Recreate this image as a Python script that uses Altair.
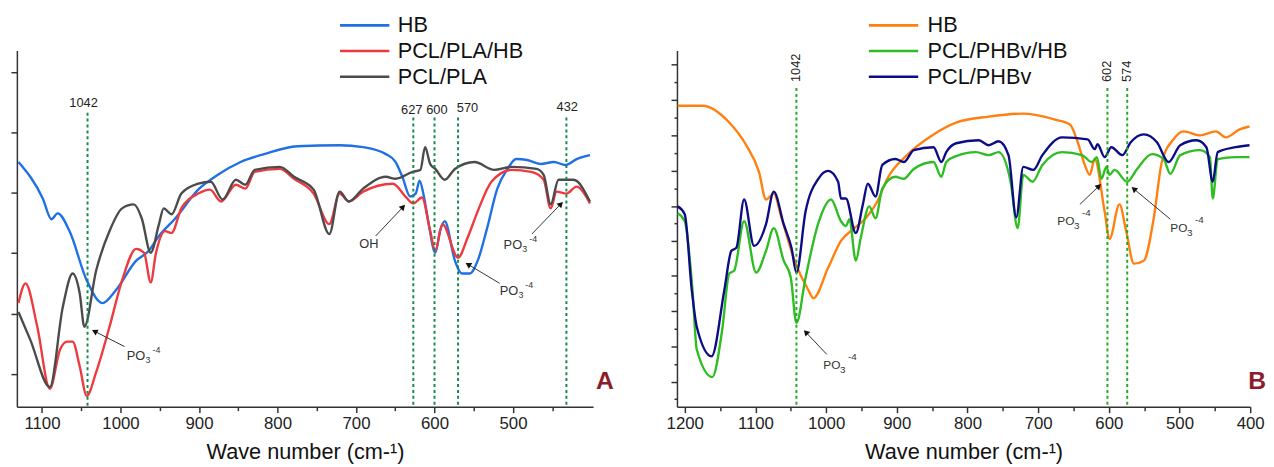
import math
import altair as alt
import pandas as pd

FONT = "Liberation Sans"

# ---------------- Panel A: spectra (wave number cm-1, transmittance a.u.) ----------------
A_NAMES = ["HB", "PCL/PLA/HB", "PCL/PLA"]
A_COLORS = ["#1f6fe5", "#ee3a3e", "#4b4b4b"]

A_HB_WN = [1130, 1099, 1088, 1080, 1065, 1043, 1023, 1006, 980, 964, 951, 930, 901, 876, 847, 817, 775, 721, 691, 662,
           649.5, 641, 631, 624, 619, 614, 608, 599, 593, 587, 574, 565, 555, 545, 533, 520, 507, 496, 482, 465,
           448, 433, 419, 402]
A_HB_T = [248, 211, 190, 196, 178, 128, 105, 118, 148, 158, 173, 191, 220, 235, 248, 256, 264, 265, 263, 256,
          248, 233, 213, 216, 229, 215, 188, 156, 178, 188, 148, 135, 135, 148, 181, 221, 241, 251, 250, 246,
          248, 245, 251, 255]

A_PPH_WN = [1130, 1121, 1106, 1090, 1077, 1068, 1061, 1052, 1043, 1031, 1014, 998, 980, 970, 961.5, 955, 943, 935,
            922.5, 901, 886, 872, 853, 841, 829, 797, 779, 754, 734, 721, 709, 691, 653, 637, 627, 616, 605.5, 599,
            590, 570, 558, 545, 527.5, 502, 477, 461, 452, 444.5, 432, 419, 402]
A_PPH_T = [105, 125, 81, 18, 58, 66, 66, 41, 11, 35, 81, 128, 160, 156, 126, 155, 178, 176,
           201, 216, 220, 208, 225, 221, 238, 241, 231, 216, 185, 216, 208, 218, 226, 213, 206, 212, 178, 158,
           185, 151, 171, 198, 228, 240, 238, 230, 201, 218, 216, 223, 206]

A_PP_WN = [1130, 1115, 1090, 1073.5, 1061, 1052, 1046, 1031, 1014, 998, 983, 973, 961.5, 951, 945, 935, 922.5, 901,
           885, 870, 853, 841, 829, 797, 779, 754, 734, 721, 709, 691, 662, 649.5, 628, 618, 612, 605.5, 599, 587,
           574, 549, 524, 502, 470, 461, 452, 442, 423, 402]
A_PP_T = [96, 68, 20, 101, 135, 115, 81, 138, 178, 201, 205, 191, 156, 185, 201, 195, 216, 226,
          228, 210, 230, 225, 240, 243, 233, 220, 175, 218, 208, 221, 233, 231, 238, 240, 263, 246, 241, 230,
          241, 248, 240, 243, 241, 235, 205, 230, 230, 208]

A_MARK_WN = [1042, 627, 600, 570, 432]
A_MARK_TOP = [298, 293, 293, 293, 293]
A_LABEL_TEXT = ["1042", "627", "600", "570", "432"]
A_LABEL_WN = [1047, 629, 597, 558, 431]
A_LABEL_T = [308, 301, 301, 303, 304]

A_ARROW_TAIL_WN = [995, 675, 517, 476]
A_ARROW_TAIL_T = [61, 173, 125, 175]
A_ARROW_HEAD_WN = [1037, 637, 561, 436]
A_ARROW_HEAD_T = [78, 205, 146, 208]
A_PO_WN = [992, 517, 512]
A_PO_T = [51, 117, 164]
A_OH_WN = [683.5]
A_OH_T = [165]
A_XTICKS = [1100, 1050, 1000, 950, 900, 850, 800, 750, 700, 650, 600, 550, 500, 450]
A_YTICKS = [33, 94, 156, 217, 278, 339]

# ---------------- Panel B ----------------
B_NAMES = ["HB", "PCL/PHBv/HB", "PCL/PHBv"]
B_COLORS = ["#ff7f10", "#2ebd22", "#0c0c86"]

B_HB_WN = [1210, 1175, 1137, 1113, 1095, 1085, 1074, 1063, 1043, 1025, 1018, 997, 979, 960, 944, 927.5, 913.5,
           885.6, 848, 816, 770, 722, 676, 655, 644, 634, 627, 620, 606, 599, 585, 575.5, 564.5, 550.5, 536.5,
           525, 508.5, 494.5, 471, 448.5, 434.5, 415, 401]
B_HB_T = [305, 305, 288, 265, 238, 210, 216, 191, 145, 118, 110, 141, 168, 181, 191, 208, 231,
          255, 276, 288, 294, 297, 291, 286, 268, 245, 235, 251, 198, 170, 205, 178, 145, 148, 191,
          248, 271, 279, 275, 279, 273, 281, 284]

B_PPH_WN = [1210, 1200, 1189, 1183, 1161, 1147, 1137, 1130, 1116, 1099, 1085, 1074, 1060, 1050, 1042, 1029, 1011,
            993, 979, 972, 967, 958, 951, 939, 930, 920.5, 902, 890, 876, 848, 837, 830, 816, 788, 770, 756, 739,
            729, 721, 708, 694, 666, 638, 624, 617, 610.5, 603.5, 599, 592, 574, 560, 539, 522.5, 513, 499, 471,
            457, 453, 446, 420.5, 401]
B_PPH_T = [196, 188, 118, 58, 30, 78, 135, 138, 188, 136, 158, 181, 148, 131, 85, 131, 186,
           210, 188, 183, 190, 148, 171, 203, 191, 221, 233, 231, 241, 248, 233, 248, 254, 258, 255, 258, 228,
           181, 235, 228, 245, 258, 255, 248, 253, 231, 243, 235, 240, 228, 241, 256, 251, 236, 255, 260,
           253, 211, 251, 253, 253]

B_PP_WN = [1210, 1200, 1190, 1183, 1162, 1144, 1134, 1127, 1116, 1102, 1085, 1074, 1060, 1049, 1042, 1029, 1011,
           997, 983, 979, 972, 958, 948, 941, 930, 920.5, 902, 890, 876, 848, 837, 830, 816, 784, 770, 756, 742,
           731, 721, 707, 694, 666, 630, 620, 616, 606, 596.5, 581, 569, 550.5, 532, 515.5, 499, 476, 462, 453,
           446, 420.5, 401]
B_PP_T = [203, 195, 118, 81, 51, 118, 158, 161, 210, 163, 185, 218, 185, 161, 136, 198, 231,
          239, 228, 211, 211, 176, 205, 226, 213, 245, 251, 248, 260, 263, 248, 258, 267, 270, 265, 269, 255,
          192, 243, 240, 255, 273, 271, 261, 266, 253, 263, 255, 268, 276, 268, 248, 265, 270, 263, 228,
          258, 263, 265]

B_MARK_WN = [1042, 602, 574]
B_MARK_TOP = [323, 323, 323]
B_LABEL_TEXT = ["1042", "602", "574"]
B_LABEL_WN = [1042, 602, 574]
B_LABEL_T = [329, 329, 329]

B_ARROW_TAIL_WN = [999, 641, 513]
B_ARROW_TAIL_T = [53, 205, 190]
B_ARROW_HEAD_WN = [1032, 610.5, 568.5]
B_ARROW_HEAD_T = [78, 226, 223]
B_PO_WN = [1004, 673, 513]
B_PO_T = [42, 188, 181]
B_XTICKS = [1200, 1150, 1100, 1050, 1000, 950, 900, 850, 800, 750, 700, 650, 600, 550, 500, 450, 400]
B_YTICKS = [8, 25, 43, 61, 79, 97, 115, 133, 150, 168, 186, 203, 221, 239, 257, 275, 293, 311, 329, 347]
B_YMAJOR = [25, 61, 97, 133, 168, 203, 239, 275, 311, 347]

A_X_DOMAIN = [398, 1132]
B_X_DOMAIN = [400, 1211]
T_DOMAIN = [0, 361]
W_A, W_B, H = 584, 581, 361


def long_df(names, wns, ts):
    rows = []
    for n, w, t in zip(names, wns, ts):
        for i, (a, b) in enumerate(zip(w, t)):
            rows.append({"series": n, "wn": a, "t": b, "idx": i})
    return pd.DataFrame(rows)


def xenc(domain, ticks):
    return alt.X(
        "wn:Q",
        scale=alt.Scale(domain=domain, reverse=True, nice=False, zero=False),
        axis=alt.Axis(
            values=ticks,
            format="d",
            labelExpr="datum.value % 100 === 0 ? datum.label : ''",
            tickSize={"condition": {"test": "datum.value % 100 === 0", "value": 6}, "value": 4},
            title="Wave number (cm-\u00b9)",
            grid=False,
            labelFlush=False,
            labelOverlap=False,
            labelFont=FONT, labelFontSize=17, labelColor="#222", labelPadding=3,
            titleFont=FONT, titleFontSize=22, titleFontWeight="normal", titleColor="#111", titlePadding=10,
            domainColor="#333", domainWidth=1.5, tickColor="#333", tickWidth=1.5,
        ),
    )


def yenc(ticks, majors):
    test = "indexof([" + ",".join(str(v) for v in majors) + "], datum.value) >= 0"
    return alt.Y(
        "t:Q",
        scale=alt.Scale(domain=T_DOMAIN, nice=False, zero=False),
        axis=alt.Axis(values=ticks, labels=False, title=None, grid=False,
                      domainColor="#333", domainWidth=1.5, tickColor="#333", tickWidth=1.5,
                      tickSize={"condition": {"test": test, "value": 6}, "value": 3}),
    )


def arrows(tw, tt, hw, ht, kx):
    rules, heads = [], []
    for a, b, c, d in zip(tw, tt, hw, ht):
        dx = -(c - a) * kx
        dy = -(d - b)
        L = math.hypot(dx, dy)
        ux, uy = dx / L, dy / L
        ang = math.degrees(math.atan2(ux, -uy)) % 360
        back = 3.5
        rules.append({"wn": a, "t": b, "wn2": c + ux * back / kx, "t2": d + uy * back})
        heads.append({"wn": c + ux * back / kx, "t": d + uy * back, "ang": ang})
    return pd.DataFrame(rules), pd.DataFrame(heads)


def panel(names, colors, wns, ts, domain, xticks, yticks, ymajor, width,
          mark_wn, mark_top, mark_color, lab_text, lab_wn, lab_t, lab_angle,
          tw, tt, hw, ht, po_wn, po_t, po_style, extra_text, letter, letter_x, letter_align,
          legend_x, label_offset):
    kx = width / (domain[1] - domain[0])
    X = lambda: xenc(domain, xticks)
    Y = lambda: yenc(yticks, ymajor)
    df = long_df(names, wns, ts)
    lines = alt.Chart(df).mark_line(strokeWidth=2.4, interpolate="monotone").encode(
        x=X(), y=Y(),
        color=alt.Color("series:N", scale=alt.Scale(domain=names, range=colors),
                        legend=alt.Legend(orient="none", legendX=legend_x, legendY=-37, title=None,
                                          symbolType="M-2.5,0H2.5", symbolSize=400, symbolStrokeWidth=2.6,
                                          labelFontSize=22, labelFont=FONT, labelColor="#111",
                                          labelOffset=label_offset, rowPadding=3, padding=0)),
        order="idx:Q",
    )
    mdf = pd.DataFrame({"wn": mark_wn, "t": mark_top, "t0": [0] * len(mark_wn)})
    dashed = alt.Chart(mdf).mark_rule(strokeDash=[3, 3], strokeWidth=2, color=mark_color).encode(
        x=X(), y=Y(), y2="t0:Q")
    ldf = pd.DataFrame({"wn": lab_wn, "t": lab_t, "lab": lab_text})
    if lab_angle:
        labels = alt.Chart(ldf).mark_text(font=FONT, fontSize=13, color="#222", angle=lab_angle,
                                          align="left", baseline="middle").encode(x=X(), y=Y(), text="lab:N")
    else:
        labels = alt.Chart(ldf).mark_text(font=FONT, fontSize=13, color="#222",
                                          align="center", baseline="middle").encode(x=X(), y=Y(), text="lab:N")
    rdf, hdf = arrows(tw, tt, hw, ht, kx)
    arr = alt.Chart(rdf).mark_rule(strokeWidth=1, color="#333").encode(x=X(), y=Y(), x2="wn2:Q", y2="t2:Q")
    heads = alt.Chart(hdf).mark_point(shape="triangle-up", filled=True, size=45, color="#111", opacity=1).encode(
        x=X(), y=Y(), angle=alt.Angle("ang:Q", scale=None))
    pdf = pd.DataFrame({"wn": po_wn, "t": po_t})
    fs, sdx, sdy, pdx, pdy, sfs = po_style
    po1 = alt.Chart(pdf).mark_text(text="PO", font=FONT, fontSize=fs, color="#333", align="left",
                                   baseline="middle").encode(x=X(), y=Y())
    po2 = alt.Chart(pdf).mark_text(text="3", font=FONT, fontSize=sfs, color="#333", align="left",
                                   baseline="middle", dx=sdx, dy=sdy).encode(x=X(), y=Y())
    po3 = alt.Chart(pdf).mark_text(text="-4", font=FONT, fontSize=sfs, color="#333", align="left",
                                   baseline="middle", dx=pdx, dy=pdy).encode(x=X(), y=Y())
    layers = [lines, dashed, labels, arr, heads, po1, po2, po3]
    if extra_text is not None:
        ew, et, etxt = extra_text
        edf = pd.DataFrame({"wn": ew, "t": et, "lab": etxt})
        layers.append(alt.Chart(edf).mark_text(font=FONT, fontSize=13, color="#333", align="center",
                                               baseline="middle").encode(x=X(), y=Y(), text="lab:N"))
    letter_layer = alt.Chart(pd.DataFrame({"lab": [letter]})).mark_text(
        font=FONT, fontSize=25, fontWeight="bold", color="#8b1c2c", align=letter_align, baseline="middle"
    ).encode(x=alt.value(letter_x), y=alt.value(335), text="lab:N")
    layers.append(letter_layer)
    return alt.layer(*layers).properties(width=width, height=H)


pA = panel(A_NAMES, A_COLORS, [A_HB_WN, A_PPH_WN, A_PP_WN], [A_HB_T, A_PPH_T, A_PP_T],
           A_X_DOMAIN, A_XTICKS, A_YTICKS, A_YTICKS, W_A,
           A_MARK_WN, A_MARK_TOP, "#15894f", A_LABEL_TEXT, A_LABEL_WN, A_LABEL_T, None,
           A_ARROW_TAIL_WN, A_ARROW_TAIL_T, A_ARROW_HEAD_WN, A_ARROW_HEAD_T,
           A_PO_WN, A_PO_T, (13, 19, 4, 26, -6, 9), (A_OH_WN, A_OH_T, ["OH"]), "A", 596, "center",
           341, 22)

pB = panel(B_NAMES, B_COLORS, [B_HB_WN, B_PPH_WN, B_PP_WN], [B_HB_T, B_PPH_T, B_PP_T],
           B_X_DOMAIN, B_XTICKS, B_YTICKS, B_YMAJOR, W_B,
           B_MARK_WN, B_MARK_TOP, "#22aa22", B_LABEL_TEXT, B_LABEL_WN, B_LABEL_T, 270,
           B_ARROW_TAIL_WN, B_ARROW_TAIL_T, B_ARROW_HEAD_WN, B_ARROW_HEAD_T,
           B_PO_WN, B_PO_T, (12, 17, 5, 25, -8, 10), None, "B", 597, "right",
           208, 23)

chart = alt.hconcat(pA, pB, spacing=51).resolve_scale(
    color="independent", x="independent", y="independent"
).properties(
    padding={"left": 2, "top": 3, "right": 0, "bottom": 0},
    background="white",
).configure_view(stroke=None)

chart.save("out.html", embed_options={"renderer": "svg", "actions": False})
